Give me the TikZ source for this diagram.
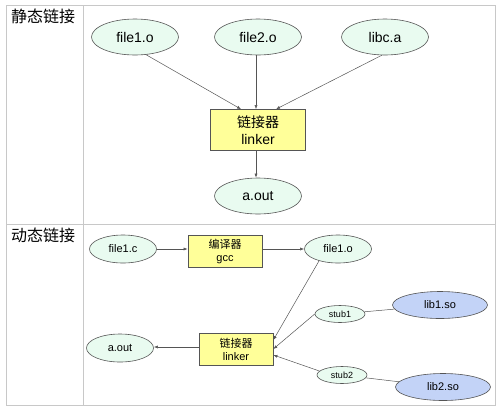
\documentclass[tikz,border=0pt]{standalone}
\usepackage{fontspec}
\setmainfont{Liberation Sans}
\newfontfamily\cjk{Noto Sans CJK SC}
\usetikzlibrary{shapes.geometric,arrows.meta}
\definecolor{mint}{HTML}{E9FBF0}
\definecolor{boxy}{HTML}{FFFF99}
\definecolor{libb}{HTML}{C3D3F7}
\definecolor{grid}{HTML}{C8C8C8}
\definecolor{edge}{HTML}{555555}
\tikzset{
  ell/.style={ellipse, draw=edge, fill=mint, line width=0.6pt, inner sep=0pt},
  bigell/.style={ell, minimum width=87pt, minimum height=36pt, font=\fontsize{14}{14}\selectfont},
  smell/.style={ell, minimum width=67pt, minimum height=28pt, font=\fontsize{11}{11}\selectfont},
  stubell/.style={ell, minimum width=50pt, minimum height=17pt, font=\fontsize{9}{9}\selectfont},
  libell/.style={ell, fill=libb, minimum width=95pt, minimum height=27pt, font=\fontsize{11}{11}\selectfont},
  bigbox/.style={draw=edge, fill=boxy, line width=0.7pt, minimum width=95pt, minimum height=41pt, align=center, inner sep=0pt, font=\fontsize{14}{17}\selectfont},
  smbox/.style={draw=edge, fill=boxy, line width=0.7pt, minimum width=74pt, minimum height=32pt, align=center, inner sep=0pt, font=\fontsize{11}{13}\selectfont},
  arr/.style={draw=edge, line width=0.5pt, -{Latex[length=4pt,width=3pt]}},
  ln/.style={draw=edge, line width=0.5pt},
  hdr/.style={anchor=north west, inner sep=0pt, font=\cjk\fontsize{16}{16}\selectfont}
}
\begin{document}
\begin{tikzpicture}[x=1pt,y=-1pt]
\useasboundingbox (0,0) rectangle (498,408);
% table grid
\draw[grid, line width=1pt] (6,5) rectangle (495,405);
\draw[grid, line width=1pt] (83,5) -- (83,405);
\draw[grid, line width=1pt] (6,224) -- (495,224);
\node[hdr] (h1) at (11,9) {静态链接};
\node[hdr] (h2) at (11,228) {动态链接};
% static linking
\node[bigell] (f1) at (135,37) {file1.o};
\node[bigell] (f2) at (258,37) {file2.o};
\node[bigell] (lc) at (385,37) {libc.a};
\node[bigbox] (lk) at (258,130) {{\cjk 链接器}\\linker};
\node[bigell] (ao) at (258,196) {a.out};
\draw[arr] (f1.-58) -- ([xshift=-17pt]lk.north);
\draw[arr] ([xshift=-2pt]f2.south) -- ([xshift=-2pt]lk.north);
\draw[arr] (lc.-100) -- ([xshift=18pt]lk.north);
\draw[arr] ([xshift=-2pt]lk.south) -- ([xshift=-2pt]ao.north);
% dynamic linking
\node[smell] (fc) at (123,249) {file1.c};
\node[smbox] (gcc) at (225,251) {{\cjk 编译器}\\gcc};
\node[smell] (fo) at (338,249) {file1.o};
\node[stubell] (s1) at (340,314) {stub1};
\node[libell] (l1) at (440,305) {lib1.so};
\node[smbox] (lk2) at (236,349) {{\cjk 链接器}\\linker};
\node[smell] (ao2) at (120,348) {a.out};
\node[stubell] (s2) at (342,375) {stub2};
\node[libell] (l2) at (443,387) {lib2.so};
\draw[arr] (fc.east) -- ([yshift=2pt]gcc.west);
\draw[arr] ([yshift=2pt]gcc.east) -- (fo.west);
\draw[arr] (fo.-148) -- ([yshift=9pt]lk2.east);
\draw[arr] (s1.west) -- (lk2.east);
\draw[arr] (s2.170) -- ([yshift=-6pt]lk2.east);
\draw[arr] ([yshift=2pt]lk2.west) -- ([yshift=1pt]ao2.east);
\draw[ln] (s1) -- (l1);
\draw[ln] (s2) -- (l2);
\end{tikzpicture}
\end{document}
